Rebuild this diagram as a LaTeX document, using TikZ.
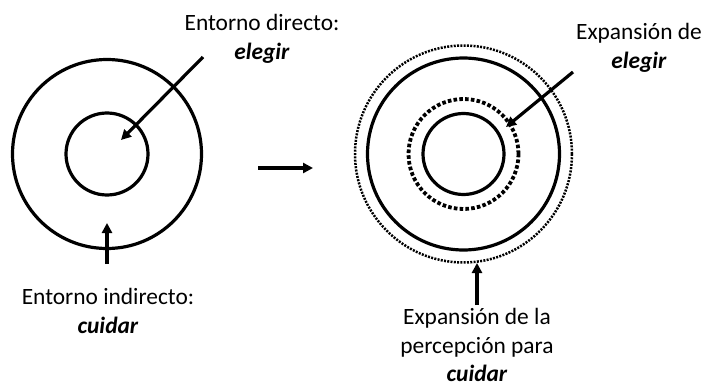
\documentclass[tikz,border=0pt]{standalone}
\usepackage{fontspec}
\setmainfont{Carlito}
\usetikzlibrary{arrows.meta}
\begin{document}
\begin{tikzpicture}[x=1pt,y=-1pt,line width=3.2pt,
  lbl/.style={align=center,font=\fontsize{23.4}{28.5}\selectfont,inner sep=0pt},
  ring/.style={draw,circle,inner sep=0pt,outer sep=0pt,minimum size=#1},
  finedots/.style={line width=2.5pt,dash pattern=on 2pt off 1.3pt},
  bigdots/.style={line width=3.8pt,dash pattern=on 3.6pt off 2.2pt},
  pointer/.style={-{Triangle[length=10pt,width=10pt]}}]
\useasboundingbox (0,0) rectangle (705,388);
\pgfmathsetmacro{\kleft}{107}
\pgfmathsetmacro{\kright}{463.5}
\pgfmathsetmacro{\kmid}{154}
% before
\node[ring=189] (outL) at (\kleft,\kmid) {};
\node[ring=82] (inL) at (\kleft,\kmid) {};
% after
\node[ring=192] (outR) at (\kright,\kmid) {};
\node[ring=81] (inR) at (\kright,\kmid) {};
\node[ring=217,finedots] (outDot) at (\kright,\kmid) {};
\node[ring=110,bigdots] (inDot) at (\kright,\kmid) {};
% labels
\node[lbl] (direct) at (262,39) {Entorno directo:\\\textbf{\textit{elegir}}};
\node[lbl] (indirect) at (108,311) {Entorno indirecto:\\\textbf{\textit{cuidar}}};
\node[lbl] (expElegir) at (639,48) {Expansión de\\\textbf{\textit{elegir}}};
\node[lbl] (expCuidar) at (477,345) {Expansión de la\\percepción para\\\textbf{\textit{cuidar}}};
% arrows
\coordinate (dTail) at (203,57);
\coordinate (dTip) at (121,140);
\coordinate (iTail) at (107,264);
\coordinate (iTip) at (107,223);
\coordinate (mTail) at (258,168);
\coordinate (mTip) at (313,168);
\coordinate (eTail) at (573,72);
\coordinate (eTip) at (506,127);
\coordinate (cTail) at (477,305);
\coordinate (cTip) at (477,263);
\foreach \ka/\kb in {dTail/dTip,iTail/iTip,mTail/mTip,eTail/eTip,cTail/cTip}{\draw[pointer](\ka)--(\kb);}
\end{tikzpicture}
\end{document}
